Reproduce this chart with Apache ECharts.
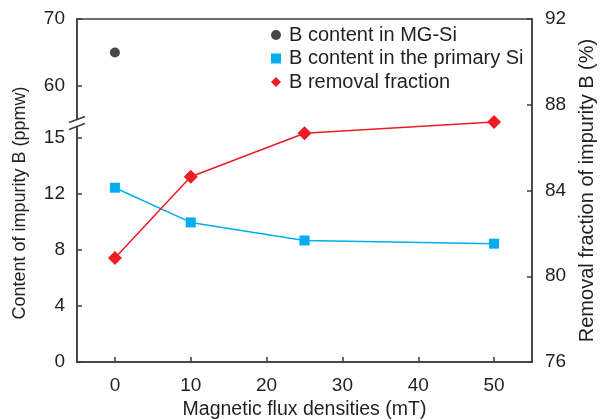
<!DOCTYPE html>
<html>
<head>
<meta charset="utf-8">
<script src="https://cdn.jsdelivr.net/npm/echarts@6/dist/echarts.min.js"></script>
<style>html,body{margin:0;padding:0;background:#fff}#c{width:601px;height:419px}</style>
</head>
<body>
<div id="c"></div>
<script>
// Data
var fluxDensities = [0, 10, 25, 50];
var mgSiContent = [[0, 65]];
var primarySiContent = [12.45, 9.97, 8.68, 8.45];
var removalFraction = [80.85, 84.64, 86.67, 87.19];
var xTicks = [0, 10, 20, 30, 40, 50];
var lowerTicks = [0, 4, 8, 12, 16];
var lowerTickLabels = ['0', '4', '8', '12', '15'];
var upperTicks = [60, 70];

var FONT = 'Liberation Sans, Arial, sans-serif';
var TXT = '#231f20';
var AX = '#3c3c3c';

var chart = echarts.init(document.getElementById('c'), null, {renderer: 'canvas'});

function pairs(xs, ys) { return xs.map(function (x, i) { return [x, ys[i]]; }); }

var baseX = {type: 'value', min: -5, max: 55};
var axisLineStyle = {show: true, onZero: false, lineStyle: {color: AX, width: 1.5}};
var tickStyle = {show: true, inside: true, length: 5, lineStyle: {color: AX, width: 1.5}};
var labelStyle = {color: TXT, fontFamily: FONT, fontSize: 19};

var option = {
  animation: false,
  backgroundColor: '#fff',
  grid: [
    {left: 77, right: 69, top: 19, bottom: 57, outerBoundsMode: 'none', containLabel: false, show: true, borderColor: AX, borderWidth: 1.5, backgroundColor: 'transparent'},
    {left: 77, right: 69, top: 123, bottom: 57, outerBoundsMode: 'none', containLabel: false},
    {left: 77, right: 69, top: 19, bottom: 296, outerBoundsMode: 'none', containLabel: false}
  ],
  xAxis: [
    Object.assign({}, baseX, {
      gridIndex: 0,
      axisLine: axisLineStyle,
      axisTick: Object.assign({}, tickStyle, {customValues: xTicks}),
      axisLabel: Object.assign({}, labelStyle, {margin: 14, customValues: xTicks}),
      splitLine: {show: false},
      name: 'Magnetic flux densities (mT)',
      nameLocation: 'middle',
      nameGap: 34,
      nameTextStyle: {color: TXT, fontFamily: FONT, fontSize: 19.5}
    }),
    Object.assign({}, baseX, {gridIndex: 1, show: false, axisLine: {show: false, onZero: false}}),
    Object.assign({}, baseX, {gridIndex: 2, show: false, axisLine: {show: false, onZero: false}})
  ],
  yAxis: [
    {
      type: 'value', gridIndex: 0, min: 0, max: 1, position: 'left',
      axisLine: {show: false, onZero: false}, axisTick: {show: false}, axisLabel: {show: false}, splitLine: {show: false},
      name: 'Content of impurity B (ppmw)', nameLocation: 'middle', nameGap: 48, nameRotate: 90,
      nameTextStyle: {color: TXT, fontFamily: FONT, fontSize: 18, padding: [0, 25, 0, 0]}
    },
    {
      type: 'value', gridIndex: 0, min: 76, max: 92, interval: 4, position: 'right',
      axisLine: axisLineStyle, axisTick: tickStyle,
      axisLabel: Object.assign({}, labelStyle, {margin: 13}),
      splitLine: {show: false},
      name: 'Removal fraction of impurity B (%)', nameLocation: 'middle', nameGap: 39, nameRotate: 90,
      nameTextStyle: {color: TXT, fontFamily: FONT, fontSize: 20}
    },
    {
      type: 'value', gridIndex: 1, min: 0, max: 239 / 14, position: 'left',
      axisLine: axisLineStyle,
      axisTick: Object.assign({}, tickStyle, {customValues: lowerTicks}),
      axisLabel: Object.assign({}, labelStyle, {margin: 12, customValues: lowerTicks,
        formatter: function (v) { var i = lowerTicks.indexOf(v); return i >= 0 ? lowerTickLabels[i] : ''; }}),
      splitLine: {show: false}
    },
    {
      type: 'value', gridIndex: 2, min: 70 - 104 / 6.7, max: 70, position: 'left',
      axisLine: axisLineStyle,
      axisTick: Object.assign({}, tickStyle, {customValues: upperTicks}),
      axisLabel: Object.assign({}, labelStyle, {margin: 12, customValues: upperTicks}),
      splitLine: {show: false}
    }
  ],
  legend: {
    orient: 'vertical', left: 266, top: 20,
    itemWidth: 10, itemHeight: 10, itemGap: 3.5,
    textStyle: {color: TXT, fontFamily: FONT, fontSize: 20, lineHeight: 20, padding: [0, 0, 0, 3]},
    data: [
      {name: 'B content in MG-Si', icon: 'circle'},
      {name: 'B content in the primary Si', icon: 'rect'},
      {name: 'B removal fraction', icon: 'diamond'}
    ]
  },
  series: [
    {
      name: 'B content in MG-Si', type: 'scatter', xAxisIndex: 2, yAxisIndex: 3,
      symbol: 'circle', symbolSize: 10, itemStyle: {color: '#1a1a1a'},
      data: mgSiContent, z: 5
    },
    {
      name: 'B content in the primary Si', type: 'line', xAxisIndex: 1, yAxisIndex: 2,
      symbol: 'rect', symbolSize: 10, itemStyle: {color: '#00aeef'},
      lineStyle: {color: '#00aeef', width: 1.5},
      data: pairs(fluxDensities, primarySiContent), z: 4
    },
    {
      name: 'B removal fraction', type: 'line', xAxisIndex: 0, yAxisIndex: 1,
      symbol: 'diamond', symbolSize: 14, itemStyle: {color: '#ed1c24'},
      lineStyle: {color: '#ed1c24', width: 1.5},
      data: pairs(fluxDensities, removalFraction), z: 5
    }
  ]
};
chart.setOption(option);

// axis break marks, placed from the axes' own pixel conversion
var bx = chart.convertToPixel({xAxisIndex: 0}, -5);
var by = chart.convertToPixel({yAxisIndex: 2}, 239 / 14);
chart.setOption({
  graphic: [
    {type: 'polygon', z: 100, shape: {points: [[bx - 8, by - 0.5], [bx + 8, by - 6.5], [bx + 8, by + 0.5], [bx - 8, by + 6.5]]}, style: {fill: '#fff'}},
    {type: 'line', z: 101, shape: {x1: bx - 8, y1: by - 0.5, x2: bx + 8, y2: by - 6.5}, style: {stroke: AX, lineWidth: 1.5}},
    {type: 'line', z: 101, shape: {x1: bx - 8, y1: by + 6.5, x2: bx + 8, y2: by + 0.5}, style: {stroke: AX, lineWidth: 1.5}}
  ]
});
</script>
</body>
</html>
